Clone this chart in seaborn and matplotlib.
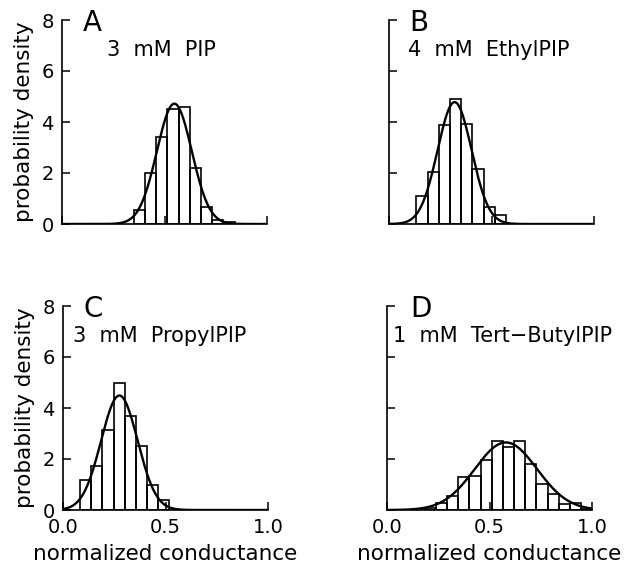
import numpy as np
import pandas as pd
import matplotlib
matplotlib.use("Agg")
import matplotlib.pyplot as plt
import seaborn as sns

# ---------------- data ----------------
panel_letters = ["A", "B", "C", "D"]
panel_titles = ["3  mM  PIP", "4  mM  EthylPIP", "3  mM  PropylPIP", "1  mM  Tert\u2212ButylPIP"]

bin_width = 0.0545
bin_start_A = 0.351
bin_start_B = 0.134
bin_start_C = 0.083
bin_start_D = 0.184

heights_A = [0.55, 1.99, 3.40, 4.51, 4.60, 2.18, 0.68, 0.16, 0.09]
heights_B = [1.08, 2.05, 3.87, 4.89, 3.91, 2.15, 0.65, 0.35]
heights_C = [1.16, 1.74, 3.14, 4.97, 3.70, 2.52, 1.00, 0.41]
heights_D = [0.09, 0.26, 0.55, 1.29, 1.32, 1.97, 2.71, 2.49, 2.71, 1.81,
             1.03, 0.61, 0.23, 0.28, 0.05]

# gaussian fit overlays: mean, sd, peak height
fit_mu = [0.548, 0.320, 0.275, 0.580]
fit_sd = [0.085, 0.083, 0.089, 0.152]
fit_peak = [4.72, 4.78, 4.49, 2.65]

y_ticks = [0, 2, 4, 6, 8]
x_ticks = [0.0, 0.5, 1.0]
x_ticklabels = ["0.0", "0.5", "1.0"]

# ---------------- style ----------------
sns.set_theme(style="ticks")
plt.rcParams["font.family"] = ["DejaVu Sans"]
plt.rcParams["axes.linewidth"] = 1.2
plt.rcParams["axes.labelcolor"] = "black"
plt.rcParams["text.color"] = "black"

fig = plt.figure(figsize=(6.26, 5.67), dpi=100)
W, H = 626.0, 567.0
rects = [
    [62 / W, 1 - 224 / H, 205 / W, 204 / H],
    [389 / W, 1 - 224 / H, 205 / W, 204 / H],
    [63 / W, 1 - 510 / H, 205 / W, 204 / H],
    [387 / W, 1 - 510 / H, 205 / W, 204 / H],
]
starts = [bin_start_A, bin_start_B, bin_start_C, bin_start_D]
heights = [heights_A, heights_B, heights_C, heights_D]
letter_x = [0.10, 0.10, 0.10, 0.112]
title_x = [0.22, 0.093, 0.05, 0.03]

for i in range(4):
    ax = fig.add_axes(rects[i])
    h = np.array(heights[i], dtype=float)
    n = len(h)
    lo = starts[i]
    hi = starts[i] + bin_width * n
    centers = starts[i] + bin_width * (np.arange(n) + 0.5)
    df = pd.DataFrame({"x": centers, "w": h})
    sns.histplot(data=df, x="x", weights="w", binwidth=bin_width,
                 binrange=(lo, hi), stat="count",
                 fill=False, element="bars", color="black",
                 linewidth=1.2, ax=ax)
    xs = np.linspace(0.0, 1.0, 400)
    ys = fit_peak[i] * np.exp(-0.5 * ((xs - fit_mu[i]) / fit_sd[i]) ** 2)
    sns.lineplot(x=xs, y=ys, color="black", linewidth=1.7, ax=ax)

    ax.set_xlim(0, 1.0)
    ax.set_ylim(0, 8)
    ax.set_yticks(y_ticks)
    ax.set_xticks(x_ticks)
    sns.despine(ax=ax)
    for s in ["left", "bottom"]:
        ax.spines[s].set_color("black")
    ax.tick_params(direction="in", length=6, width=1.1, colors="black",
                   labelsize=14, pad=6)
    ax.set_xlabel("")
    ax.set_ylabel("")
    if i in (0, 2):
        ax.set_ylabel("probability density", fontsize=15.5, labelpad=5,
                      color="black")
    else:
        ax.set_yticklabels([])
    if i in (2, 3):
        ax.set_xticklabels(x_ticklabels)
        ax.set_xlabel("normalized conductance", fontsize=15.5, labelpad=5,
                      color="black")
    else:
        ax.set_xticklabels([])
    ax.text(letter_x[i], 7.57, panel_letters[i], fontsize=20,
            ha="left", va="baseline", color="black")
    ax.text(title_x[i], 6.6, panel_titles[i], fontsize=15,
            ha="left", va="baseline", color="black")

fig.savefig("out.png", dpi=100, facecolor="white")
